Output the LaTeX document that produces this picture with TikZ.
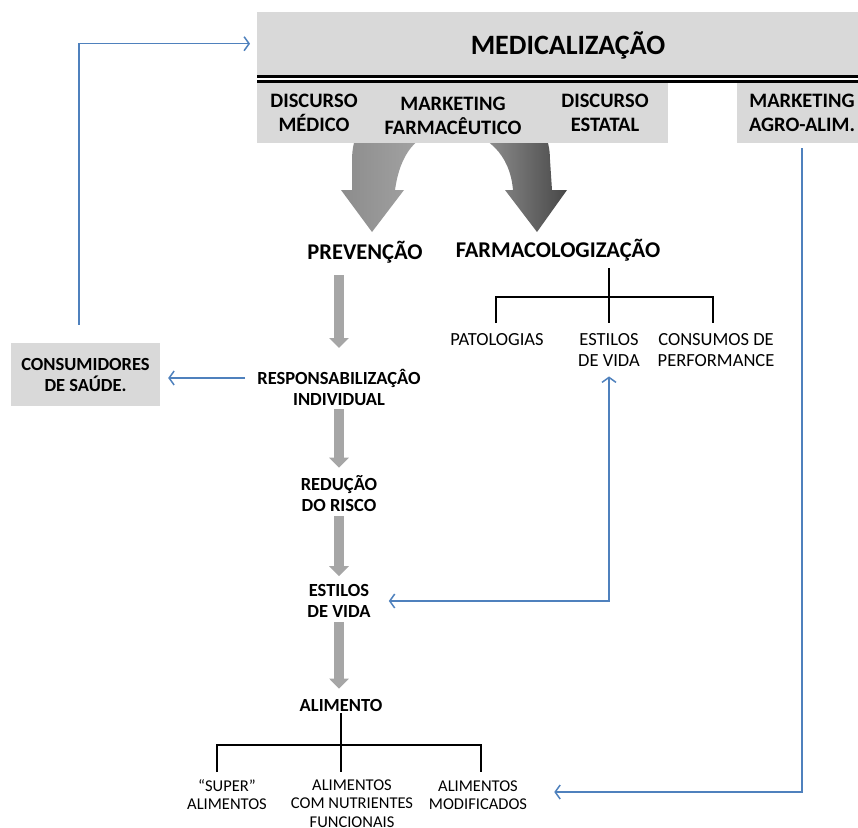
\documentclass[tikz,border=0pt]{standalone}
\usepackage{fontspec}
\setmainfont{Carlito}
\usetikzlibrary{arrows.meta}
\definecolor{boxgray}{HTML}{D9D9D9}
\definecolor{arrowblue}{HTML}{4F81BD}
\definecolor{arrgray}{HTML}{A6A6A6}
\begin{document}
\begin{tikzpicture}[x=1pt,y=-1pt,
  title/.style={font=\fontsize{28}{32}\selectfont\bfseries, inner sep=2pt},
  hd/.style={font=\fontsize{22.5}{26}\selectfont\bfseries, inner sep=2pt},
  toplbl/.style={font=\fontsize{20.5}{24}\selectfont\bfseries, align=center, inner sep=2pt},
  bl/.style={font=\fontsize{18.5}{21}\selectfont\bfseries, align=center, inner sep=2pt},
  rg/.style={font=\fontsize{18.5}{20.5}\selectfont, align=center, inner sep=2pt},
  sm/.style={font=\fontsize{16.5}{18.5}\selectfont, align=center, inner sep=2pt},
  graybox/.style={fill=boxgray, draw=none},
  bluearrow/.style={draw=arrowblue, line width=1.5pt, -{Straight Barb[length=5pt,width=14pt]}},
  bluetwo/.style={draw=arrowblue, line width=1.5pt, {Straight Barb[length=5pt,width=14pt]}-{Straight Barb[length=5pt,width=14pt]}},
  grayarrow/.style={draw=arrgray, line width=10pt, -{Triangle[length=10pt,width=19pt]}},
  treeline/.style={draw=black, line width=1.8pt}
]
\useasboundingbox (0,0) rectangle (858,827);
\clip (0,0) rectangle (858,827);

% curved double arrow
\shade[left color=black!45, right color=black!33]
  (450,85) .. controls (390,85) and (352,115) .. (352,160) -- (352,190) -- (341,190) -- (372,232) -- (404,190) -- (395,190)
  .. controls (400,155) and (415,132) .. (450,128) -- cycle;
\shade[left color=black!32, right color=black!72]
  (450,85) .. controls (510,85) and (550,115) .. (550,160) -- (552,190) -- (567,190) -- (537,232) -- (505,190) -- (513,190)
  .. controls (510,155) and (488,132) .. (450,128) -- cycle;

% header boxes
\node[graybox, anchor=north west, minimum width=601pt, minimum height=63pt, inner sep=0pt] (medbox) at (257,12) {};
\fill[boxgray] (257,83) rectangle (668,143);
\node[graybox, anchor=north west, minimum width=121pt, minimum height=60pt, inner sep=0pt] (agrobox) at (737,83) {};
\draw[line width=2.5pt] (257,76.5) -- (858,76.5);
\draw[line width=2.5pt] (257,81.5) -- (858,81.5);

\node[title] (med) at (568,45) {MEDICALIZAÇÃO};
\node[toplbl] (dmed) at (314,113) {DISCURSO\\MÉDICO};
\node[toplbl] (mfarm) at (453,116) {MARKETING\\FARMACÊUTICO};
\node[toplbl] (dest) at (605,113) {DISCURSO\\ESTATAL};
\node[toplbl] (agro) at (802,113) {MARKETING\\AGRO-ALIM.};

% main texts
\node[hd] (prev) at (365,252) {PREVENÇÃO};
\node[hd] (farm) at (558,250) {FARMACOLOGIZAÇÃO};
\node[rg] (pat) at (497,340) {PATOLOGIAS};
\node[rg] (est2) at (609,350) {ESTILOS\\DE VIDA};
\node[rg] (perf) at (716,350) {CONSUMOS DE\\PERFORMANCE};

\node[bl] (resp) at (339,387) {RESPONSABILIZAÇÂO\\INDIVIDUAL};
\node[bl] (red) at (339,494) {REDUÇÃO\\DO RISCO};
\node[bl] (est) at (339,601) {ESTILOS\\DE VIDA};
\node[bl] (alim) at (341,705) {ALIMENTO};
\node[graybox, bl, minimum width=149pt, minimum height=63pt, inner sep=0pt] (cons) at (85.5,374.5) {CONSUMIDORES\\DE SAÚDE.};

\node[sm] (super) at (227,794.5) {“SUPER”\\ALIMENTOS};
\node[sm] (nutri) at (352,803.5) {ALIMENTOS\\COM NUTRIENTES\\FUNCIONAIS};
\node[sm] (modif) at (478,795) {ALIMENTOS\\MODIFICADOS};

% gray block arrows
\draw[grayarrow] (resp.north |- 0,275) -- (resp.north |- 0,348);
\draw[grayarrow] ([yshift=-2pt]resp.south) -- ([yshift=6pt]red.north);
\draw[grayarrow] ([yshift=-2pt]red.south) -- ([yshift=6pt]est.north);
\draw[grayarrow] ([yshift=-2pt]est.south) -- ([yshift=8pt]alim.north -| est.south);

% trees
\coordinate (fj) at (609,297);
\draw[treeline] (fj |- 0,268) -- (fj);
\draw[treeline] (fj) -- (fj |- 0,323);
\draw[treeline] (496,323) -- (496,297) -- (713,297) -- (713,323);

\coordinate (aj) at (341,745);
\draw[treeline] (alim.south) -- (aj) -- (aj |- 0,772);
\draw[treeline] (217,772) -- (217,745) -- (481,745) -- (481,772);

% blue connectors
\coordinate (r1) at ([yshift=9pt]resp.west);
\path (r1 -| cons.east) coordinate (r2);
\draw[bluearrow] ([xshift=-10pt]r1) -- ([xshift=8pt]r2);
\draw[bluearrow] ([xshift=-6.5pt,yshift=18pt]cons.north) |- ([xshift=-7pt]medbox.west);
\draw[bluearrow] ([xshift=4.5pt,yshift=-5pt]agrobox.south) |- ([xshift=25pt,yshift=3pt]modif.east);
\draw[bluetwo] ([xshift=16pt]est.east) -| ([yshift=-8pt]est2.south);
\end{tikzpicture}
\end{document}
